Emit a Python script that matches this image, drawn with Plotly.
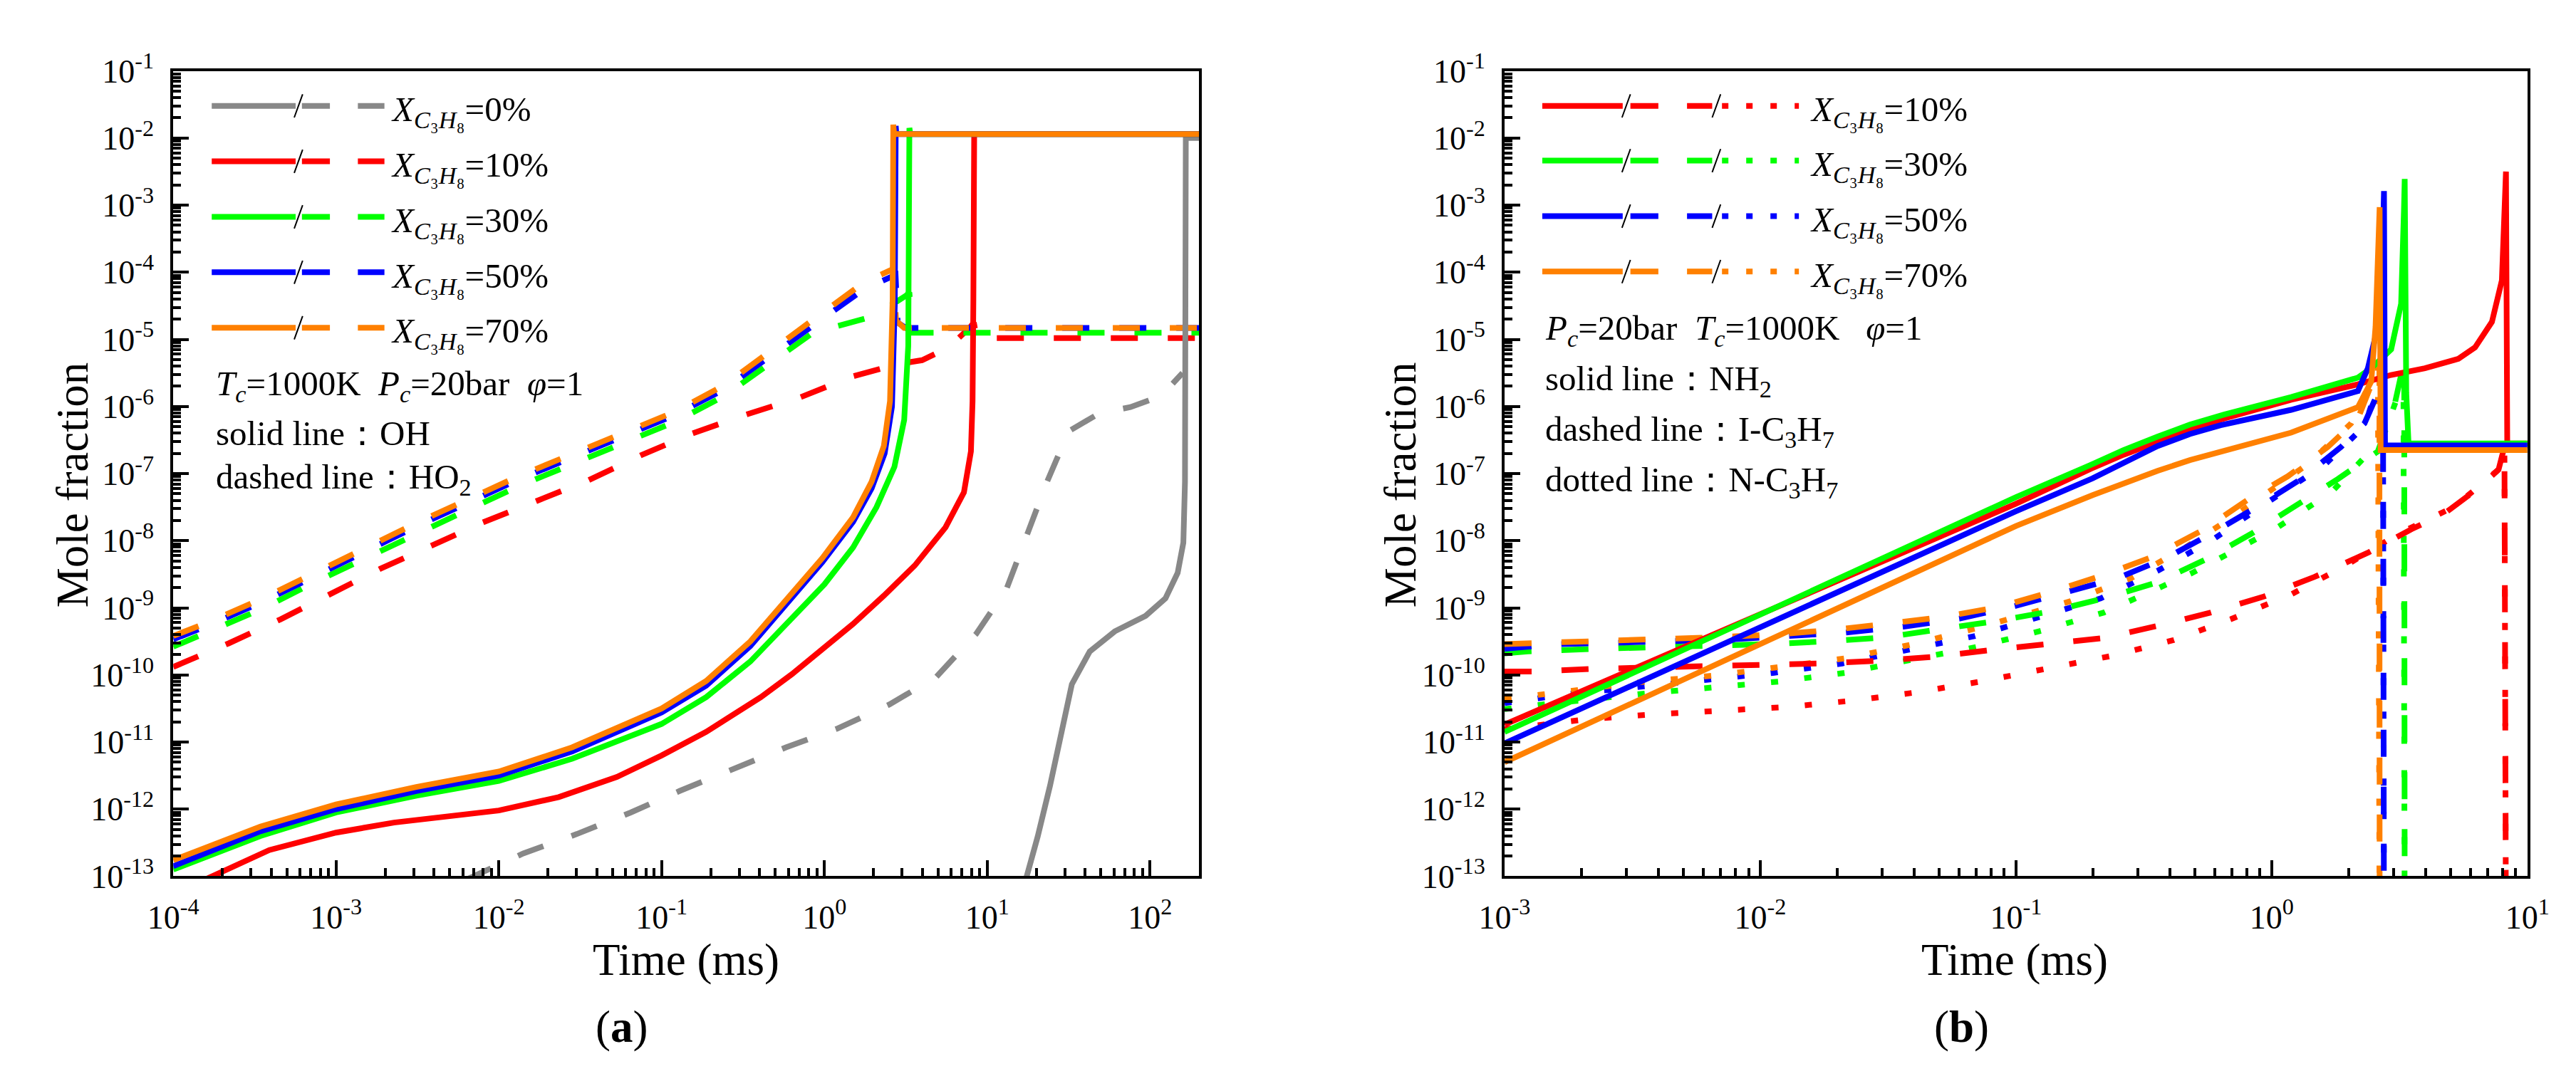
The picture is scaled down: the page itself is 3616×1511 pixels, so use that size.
"""
Mole fractions of OH / HO2 (a) and NH2 / I-C3H7 / N-C3H7 (b) against time
for several propane blending ratios, drawn as two log-log panels.
"""

import numpy as np
import plotly.graph_objects as go


W, H = 3616, 1511
FONT = "Liberation Serif"
BLACK = "rgb(0, 0, 0)"
GRAY = "rgb(136, 136, 136)"
RED = "rgb(255, 0, 0)"
GREEN = "rgb(0, 255, 0)"
BLUE = "rgb(0, 0, 255)"
ORANGE = "rgb(255, 128, 0)"
LINE_W = 8
DASH = "38px,42px"
DOT = "10px,37px"
TICK_SIZE = 46
NOTE_SIZE = 49
TITLE_SIZE = 63

# Values, as decade exponents:
# *_T = log10(time / ms), *_Y = log10(mole fraction).

# ---- panel (a): OH (solid) and HO2 (dashed)
A_PCTS = [0, 10, 30, 50, 70]

A_OH_0_T = [1.22, 1.31, 1.386, 1.463, 1.52, 1.63, 1.784, 1.973, 2.095, 2.17,
            2.205, 2.215, 2.218, 2.22, 2.301]
A_OH_0_Y = [-13.2, -12.41, -11.65, -10.75, -10.14, -9.65, -9.35, -9.12, -8.86,
            -8.48, -8.03, -7.12, -4.5, -2.0, -2.0]
A_HO2_0_T = [-2.2, -1.85, -1.52, -1.19, -0.89, -0.564, -0.236, 0.08, 0.40,
             0.687, 0.932, 1.12, 1.253, 1.368, 1.50, 1.69, 1.88, 2.07, 2.20]
A_HO2_0_Y = [-13.05, -12.66, -12.37, -12.05, -11.73, -11.41, -11.08, -10.8,
             -10.44, -10.03, -9.39, -8.71, -7.88, -7.12, -6.37, -6.10, -6.01,
             -5.84, -5.50]

A_OH_10_T = [-3.85, -3.41, -3.0, -2.644, -2.0, -1.632, -1.275, -1.0, -0.727,
             -0.39, -0.2, -0.013, 0.176, 0.365, 0.555, 0.744, 0.857, 0.9,
             0.91, 0.915, 0.92, 2.301]
A_OH_10_Y = [-13.1, -12.61, -12.35, -12.2, -12.02, -11.82, -11.52, -11.2,
             -10.85, -10.33, -9.99, -9.61, -9.24, -8.82, -8.37, -7.80, -7.28,
             -6.67, -5.92, -4.41, -1.94, -1.94]
A_HO2_10_T = [-4, -3.66, -3.34, -3.03, -2.73, -2.41, -2.10, -1.77, -1.45,
              -1.13, -0.81, -0.48, -0.155, 0.175, 0.45, 0.60, 0.763, 0.895,
              0.918, 0.935, 2.301]
A_HO2_10_Y = [-9.88, -9.53, -9.17, -8.79, -8.42, -8.07, -7.73, -7.41, -7.10,
              -6.73, -6.40, -6.12, -5.87, -5.55, -5.37, -5.31, -5.12, -4.82,
              -4.75, -4.98, -4.98]

A_OH_30_T = [-4, -3.465, -3, -2.507, -2, -1.55, -1, -0.726, -0.455, -0.2, 0.0,
             0.176, 0.32, 0.43, 0.49, 0.515, 0.522, 0.528, 2.301]
A_OH_30_Y = [-12.90, -12.40, -12.05, -11.80, -11.58, -11.25, -10.73, -10.33,
             -9.80, -9.15, -8.65, -8.1, -7.5, -6.9, -6.2, -5.1, -1.85, -1.94,
             -1.94]
A_HO2_30_T = [-4, -3.77, -3.45, -3.14, -2.82, -2.51, -2.19, -1.88, -1.56,
              -1.24, -0.92, -0.62, -0.33, -0.07, 0.25, 0.403, 0.50, 0.522,
              0.54, 2.301]
A_HO2_30_Y = [-9.58, -9.35, -9.01, -8.63, -8.26, -7.89, -7.54, -7.19, -6.87,
              -6.55, -6.23, -5.85, -5.35, -4.90, -4.69, -4.50, -4.35, -4.3,
              -4.90, -4.90]

A_OH_50_T = [-4, -3.465, -3, -2.507, -2, -1.55, -1, -0.726, -0.455, -0.2,
             -0.013, 0.176, 0.29, 0.37, 0.415, 0.432, 0.438, 0.442, 2.301]
A_OH_50_Y = [-12.85, -12.33, -12.0, -11.73, -11.50, -11.14, -10.56, -10.16,
             -9.57, -8.86, -8.32, -7.72, -7.22, -6.70, -6.0, -4.5, -1.82,
             -1.94, -1.94]
A_HO2_50_T = [-4, -3.77, -3.45, -3.14, -2.82, -2.51, -2.19, -1.88, -1.56,
              -1.24, -0.92, -0.62, -0.33, -0.07, 0.215, 0.29, 0.40, 0.437,
              0.45, 0.50, 2.301]
A_HO2_50_Y = [-9.47, -9.25, -8.91, -8.53, -8.16, -7.79, -7.44, -7.09, -6.77,
              -6.45, -6.13, -5.75, -5.24, -4.78, -4.30, -4.20, -4.07, -4.04,
              -4.75, -4.83, -4.83]

A_OH_70_T = [-4, -3.465, -3, -2.507, -2, -1.55, -1, -0.726, -0.455, -0.2,
             -0.013, 0.176, 0.29, 0.365, 0.403, 0.419, 0.423, 0.428, 2.301]
A_OH_70_Y = [-12.76, -12.26, -11.93, -11.67, -11.44, -11.08, -10.50, -10.09,
             -9.50, -8.79, -8.26, -7.65, -7.12, -6.59, -5.92, -4.41, -1.80,
             -1.94, -1.94]
A_HO2_70_T = [-4, -3.77, -3.45, -3.14, -2.82, -2.51, -2.19, -1.88, -1.56,
              -1.24, -0.92, -0.62, -0.33, -0.07, 0.215, 0.29, 0.40, 0.423,
              0.44, 0.49, 2.301]
A_HO2_70_Y = [-9.42, -9.20, -8.86, -8.48, -8.11, -7.74, -7.39, -7.04, -6.72,
              -6.40, -6.08, -5.69, -5.17, -4.70, -4.20, -4.10, -3.98, -3.95,
              -4.72, -4.83, -4.83]

# ---- panel (b): NH2 (solid), I-C3H7 (dashed), N-C3H7 (dotted)
B_PCTS = [10, 30, 50, 70]

B_NH2_10_T = [-3, -2, -1, -0.708, -0.58, -0.447, -0.32, -0.186, 0.076, 0.337,
              0.467, 0.599, 0.730, 0.795, 0.861, 0.900, 0.912, 0.916, 0.921,
              1.0]
B_NH2_10_Y = [-10.74, -9.09, -7.45, -6.93, -6.72, -6.53, -6.34, -6.18, -5.90,
              -5.67, -5.53, -5.43, -5.29, -5.12, -4.74, -4.12, -3.2, -2.5,
              -6.55, -6.55]
B_I_10_T = [-3, -2.88, -2.66, -2.21, -1.99, -1.77, -1.54, -1.32, -1.10, -0.87,
            -0.656, -0.447, -0.238, -0.029, 0.167, 0.376, 0.546, 0.677, 0.807,
            0.887, 0.91, 0.916]
B_I_10_Y = [-9.95, -9.95, -9.91, -9.88, -9.86, -9.83, -9.79, -9.73, -9.63,
            -9.54, -9.45, -9.27, -9.07, -8.83, -8.54, -8.18, -7.83, -7.59,
            -7.22, -6.94, -6.6, -14]
B_N_10_T = [-3, -2.70, -2.43, -2.18, -1.90, -1.63, -1.39, -1.14, -0.87,
            -0.630, -0.382, -0.160, 0.076, 0.285, 0.494, 0.716, 0.887, 0.91,
            0.916]
B_N_10_Y = [-10.81, -10.67, -10.59, -10.53, -10.48, -10.38, -10.26, -10.10,
            -9.91, -9.72, -9.48, -9.17, -8.80, -8.38, -7.90, -7.49, -6.94,
            -6.65, -14]

B_NH2_30_T = [-3, -2, -1, -0.708, -0.58, -0.447, -0.32, -0.186, 0.076, 0.337,
              0.389, 0.467, 0.506, 0.517, 0.520, 0.526, 0.535, 1.0]
B_NH2_30_Y = [-10.85, -9.10, -7.35, -6.87, -6.65, -6.45, -6.27, -6.12, -5.86,
              -5.57, -5.43, -5.15, -4.47, -3.09, -2.61, -5.8, -6.55, -6.55]
B_I_30_T = [-3, -2.91, -2.63, -2.41, -2.18, -1.96, -1.74, -1.51, -1.30, -1.08,
            -0.86, -0.656, -0.447, -0.264, -0.081, 0.076, 0.259, 0.415, 0.480,
            0.506, 0.518, 0.52]
B_I_30_Y = [-9.68, -9.65, -9.61, -9.59, -9.58, -9.54, -9.50, -9.44, -9.32,
            -9.20, -9.05, -8.86, -8.62, -8.29, -7.90, -7.52, -7.08, -6.67,
            -5.98, -5.53, -5.3, -14]
B_N_30_T = [-3, -2.85, -2.46, -2.20, -1.93, -1.67, -1.42, -1.15, -0.90,
            -0.656, -0.316, 0.011, 0.233, 0.402, 0.454, 0.493, 0.515, 0.52]
B_N_30_Y = [-10.51, -10.44, -10.28, -10.20, -10.10, -9.97, -9.79, -9.58,
            -9.34, -9.07, -8.49, -7.83, -7.28, -6.60, -6.26, -5.84, -5.5, -14]

B_NH2_50_T = [-3, -2, -1, -0.7, -0.58, -0.447, -0.32, -0.2, 0.076, 0.337,
              0.376, 0.415, 0.435, 0.439, 0.443, 1.0]
B_NH2_50_Y = [-11.02, -9.29, -7.56, -7.07, -6.84, -6.59, -6.41, -6.28, -6.05,
              -5.77, -5.43, -4.81, -3.44, -2.79, -6.58, -6.58]
B_I_50_T = [-3, -2.78, -2.56, -2.32, -2.11, -1.89, -1.67, -1.44, -1.22, -1.00,
            -0.87, -0.604, -0.408, -0.225, -0.042, 0.115, 0.272, 0.363, 0.402,
            0.435, 0.439]
B_I_50_Y = [-9.61, -9.54, -9.52, -9.50, -9.47, -9.42, -9.37, -9.28, -9.16,
            -8.97, -8.83, -8.56, -8.25, -7.87, -7.46, -7.08, -6.60, -6.25,
            -5.91, -5.6, -14]
B_N_50_T = [-3, -2.74, -2.48, -2.21, -1.95, -1.68, -1.43, -1.16, -0.92,
            -0.669, -0.447, -0.225, -0.029, 0.207, 0.363, 0.402, 0.435, 0.439]
B_N_50_Y = [-10.42, -10.28, -10.18, -10.08, -9.97, -9.83, -9.63, -9.42,
            -9.15, -8.86, -8.45, -7.97, -7.46, -6.87, -6.29, -5.84, -5.6, -14]

B_NH2_70_T = [-3, -2, -1, -0.7, -0.58, -0.447, -0.32, -0.2, 0.076, 0.337,
              0.389, 0.406, 0.418, 0.422, 0.426, 1.0]
B_NH2_70_Y = [-11.30, -9.54, -7.78, -7.32, -7.14, -6.96, -6.80, -6.67, -6.39,
              -6.01, -5.63, -4.81, -3.6, -3.03, -6.65, -6.65]
B_I_70_T = [-3, -2.64, -2.39, -2.18, -1.95, -1.72, -1.51, -1.29, -1.07, -0.86,
            -0.656, -0.473, -0.264, -0.094, 0.063, 0.220, 0.337, 0.389, 0.415,
            0.421, 0.422]
B_I_70_Y = [-9.54, -9.50, -9.47, -9.44, -9.40, -9.33, -9.24, -9.14, -8.99,
            -8.76, -8.51, -8.25, -7.83, -7.39, -7.04, -6.60, -6.18, -5.70,
            -5.43, -5.3, -14]
B_N_70_T = [-3, -2.71, -2.45, -2.18, -1.92, -1.66, -1.40, -1.15, -0.90,
            -0.786, -0.551, -0.342, -0.146, 0.141, 0.311, 0.389, 0.415, 0.422]
B_N_70_Y = [-10.36, -10.22, -10.10, -10.01, -9.89, -9.75, -9.54, -9.30,
            -9.03, -8.90, -8.56, -8.11, -7.63, -6.86, -6.25, -5.63, -5.4, -14]

# ---- axes
Y_TICK_EXP = list(range(-13, 0))
A_X_TICK_EXP = list(range(-4, 3))
B_X_TICK_EXP = list(range(-3, 2))
A_X_MAX = 200.0

# pixel frame of each panel (left, right, top, bottom)
A_BOX = (203, 1670, 62, 1238)
B_BOX = (2107, 3570, 62, 1238)


def px(x):
    return x / W


def py(y):
    return 1 - y / H


def lin(vals):
    """Turn decade exponents back into plain values for the log axes."""
    return 10.0 ** np.asarray(vals, dtype=float)


def add_series(fig, t, y, color, dash, axes):
    fig.add_trace(
        go.Scatter(
            x=lin(t),
            y=lin(y),
            mode="lines",
            line={"color": color, "width": LINE_W, "dash": dash},
            xaxis=axes[0],
            yaxis=axes[1],
            showlegend=False,
            hoverinfo="skip",
        )
    )


def power_ticks(exps):
    vals = [10.0 ** e for e in exps]
    text = [f"10<sup>{e}</sup>" for e in exps]
    minor = [m * 10.0 ** e for e in exps for m in range(2, 10)]
    return vals, text, minor


def axis_style(exps, rng, domain, anchor):
    vals, text, minor = power_ticks(exps)
    return {
        "type": "log",
        "range": rng,
        "domain": domain,
        "anchor": anchor,
        "tickmode": "array",
        "tickvals": vals,
        "ticktext": text,
        "ticks": "inside",
        "ticklen": 22,
        "tickwidth": 4,
        "tickcolor": BLACK,
        "minor": {
            "tickmode": "array",
            "tickvals": minor,
            "ticks": "inside",
            "ticklen": 11,
            "tickwidth": 3.5,
            "tickcolor": BLACK,
            "showgrid": False,
        },
        "showline": True,
        "linewidth": 4,
        "linecolor": BLACK,
        "mirror": True,
        "showgrid": False,
        "zeroline": False,
        "tickfont": {"family": FONT, "size": TICK_SIZE, "color": BLACK},
        "ticklabelstandoff": 14,
    }


def legend_label(pct):
    return f"<i>X</i><sub><i>C</i>\u2083<i>H</i>\u2088</sub>={pct}%"


def text_note(x, y, text, size=NOTE_SIZE, **kw):
    note = {
        "x": px(x),
        "y": py(y),
        "xref": "paper",
        "yref": "paper",
        "text": text,
        "showarrow": False,
        "xanchor": "left",
        "yanchor": "middle",
        "font": {"family": FONT, "size": size, "color": BLACK},
    }
    note.update(kw)
    return note


def seg(x0, x1, y, color, dash="solid", width=LINE_W):
    return {
        "type": "line",
        "xref": "paper",
        "yref": "paper",
        "x0": px(x0),
        "x1": px(x1),
        "y0": py(y),
        "y1": py(y),
        "line": {"color": color, "width": width, "dash": dash},
    }


def slash(x, y):
    return {
        "type": "line",
        "xref": "paper",
        "yref": "paper",
        "x0": px(x - 6),
        "x1": px(x + 6),
        "y0": py(y + 17),
        "y1": py(y - 17),
        "line": {"color": BLACK, "width": 2},
    }


fig = go.Figure()

# panel (a)
a_colors = [GRAY, RED, GREEN, BLUE, ORANGE]
a_oh = [(A_OH_0_T, A_OH_0_Y), (A_OH_10_T, A_OH_10_Y), (A_OH_30_T, A_OH_30_Y),
        (A_OH_50_T, A_OH_50_Y), (A_OH_70_T, A_OH_70_Y)]
a_ho2 = [(A_HO2_0_T, A_HO2_0_Y), (A_HO2_10_T, A_HO2_10_Y),
         (A_HO2_30_T, A_HO2_30_Y), (A_HO2_50_T, A_HO2_50_Y),
         (A_HO2_70_T, A_HO2_70_Y)]
for (t, y), color in zip(a_ho2, a_colors):
    add_series(fig, t, y, color, DASH, ("x", "y"))
for (t, y), color in zip(a_oh, a_colors):
    add_series(fig, t, y, color, "solid", ("x", "y"))

# panel (b)
b_colors = [RED, GREEN, BLUE, ORANGE]
b_nh2 = [(B_NH2_10_T, B_NH2_10_Y), (B_NH2_30_T, B_NH2_30_Y),
         (B_NH2_50_T, B_NH2_50_Y), (B_NH2_70_T, B_NH2_70_Y)]
b_i = [(B_I_10_T, B_I_10_Y), (B_I_30_T, B_I_30_Y), (B_I_50_T, B_I_50_Y),
       (B_I_70_T, B_I_70_Y)]
b_n = [(B_N_10_T, B_N_10_Y), (B_N_30_T, B_N_30_Y), (B_N_50_T, B_N_50_Y),
       (B_N_70_T, B_N_70_Y)]
for (t, y), color in zip(b_n, b_colors):
    add_series(fig, t, y, color, DOT, ("x2", "y2"))
for (t, y), color in zip(b_i, b_colors):
    add_series(fig, t, y, color, DASH, ("x2", "y2"))
for (t, y), color in zip(b_nh2, b_colors):
    add_series(fig, t, y, color, "solid", ("x2", "y2"))

a_xdom = [px(A_BOX[0]), px(A_BOX[1])]
b_xdom = [px(B_BOX[0]), px(B_BOX[1])]
ydom = [py(A_BOX[3]), py(A_BOX[2])]

# legend glyphs and notes
shapes = []
notes = []
a_rows = [113, 194, 275, 356, 437]
for row, color, pct in zip(a_rows, a_colors, A_PCTS):
    shapes.append(seg(258, 378, row, color))
    shapes.append(seg(387, 427, row, color))
    shapes.append(seg(467, 505, row, color))
    shapes.append(slash(382, row))
    notes.append(text_note(512, row + 8, legend_label(pct)))

b_rows = [113, 193, 274, 355]
for row, color, pct in zip(b_rows, b_colors, B_PCTS):
    shapes.append(seg(2161, 2276, row, color))
    shapes.append(seg(2287, 2327, row, color))
    shapes.append(seg(2368, 2404, row, color))
    shapes.append(seg(2418, 2528, row, color, dash="9px,25px"))
    shapes.append(slash(2281, row))
    shapes.append(slash(2410, row))
    notes.append(text_note(2542, row + 8, legend_label(pct)))

nb = "\u00a0"
notes += [
    text_note(262, 522, f"<i>T</i><sub><i>c</i></sub>=1000K{nb * 2}"
              f"<i>P</i><sub><i>c</i></sub>=20bar{nb * 2}<i>φ</i>=1"),
    text_note(262, 591, "solid line：OH"),
    text_note(262, 658, "dashed line：HO<sub>2</sub>"),
    text_note(2163, 440, f"<i>P</i><sub><i>c</i></sub>=20bar{nb * 2}"
              f"<i>T</i><sub><i>c</i></sub>=1000K{nb * 3}<i>φ</i>=1"),
    text_note(2163, 514, "solid line：NH<sub>2</sub>"),
    text_note(2163, 588, "dashed line：I-C<sub>3</sub>H<sub>7</sub>"),
    text_note(2163, 662, "dotted line：N-C<sub>3</sub>H<sub>7</sub>"),
    text_note(60, 666, "Mole fraction", size=TITLE_SIZE, xanchor="center",
              textangle=-90),
    text_note(1959, 666, "Mole fraction", size=TITLE_SIZE, xanchor="center",
              textangle=-90),
    text_note(936, 1360, "Time (ms)", size=TITLE_SIZE, xanchor="center"),
    text_note(2837, 1360, "Time (ms)", size=TITLE_SIZE, xanchor="center"),
    text_note(844, 1458, "(<b>a</b>)", size=TITLE_SIZE, xanchor="center"),
    text_note(2761, 1458, "(<b>b</b>)", size=TITLE_SIZE, xanchor="center"),
]

fig.update_layout(
    width=W,
    height=H,
    margin={"l": 0, "r": 0, "t": 0, "b": 0},
    paper_bgcolor="white",
    plot_bgcolor="white",
    showlegend=False,
    xaxis=axis_style(A_X_TICK_EXP, [-4, np.log10(A_X_MAX)], a_xdom, "y"),
    yaxis=axis_style(Y_TICK_EXP, [-13, -1], ydom, "x"),
    xaxis2=axis_style(B_X_TICK_EXP, [-3, 1], b_xdom, "y2"),
    yaxis2=axis_style(Y_TICK_EXP, [-13, -1], ydom, "x2"),
    shapes=shapes,
    annotations=notes,
)

fig.write_html("out.html")
